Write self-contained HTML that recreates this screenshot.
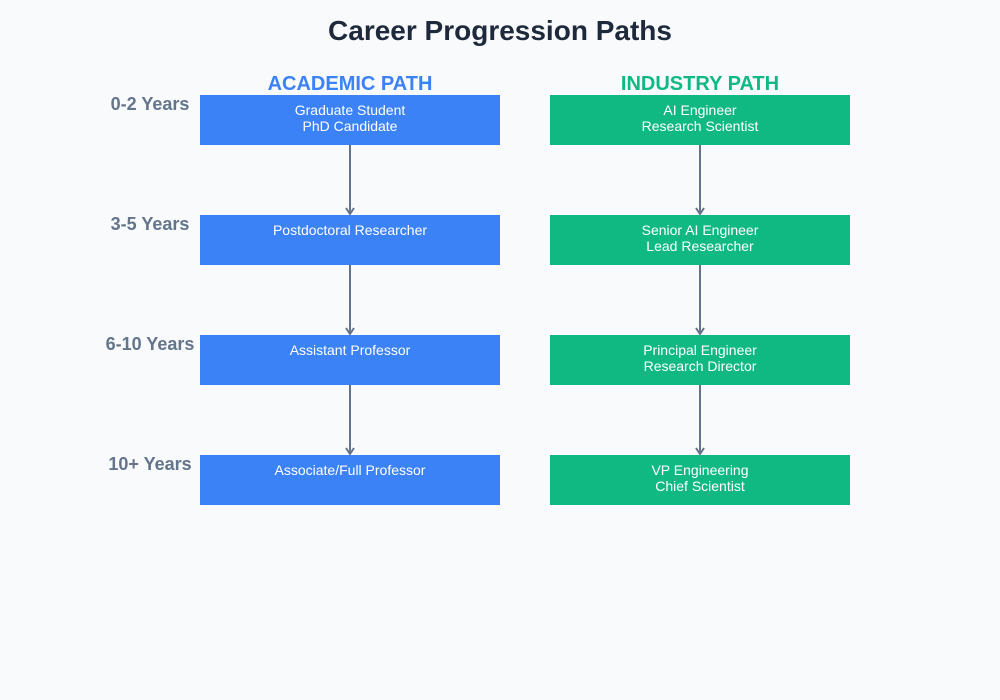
<!DOCTYPE html>
<html><head><meta charset="utf-8"><style>
html,body{margin:0;padding:0;background:#f8fafc;}
svg{display:block;font-family:"Liberation Sans",Arial,sans-serif;}
</style></head><body>
<svg width="1000" height="700" viewBox="0 0 1000 700" xmlns="http://www.w3.org/2000/svg">
<rect width="1000" height="700" fill="#f8fafc"/>
<text x="500" y="40" text-anchor="middle" font-size="28" font-weight="bold" fill="#1e293b">Career Progression Paths</text>
<text x="350" y="90" text-anchor="middle" font-size="20" font-weight="bold" fill="#3b82f6">ACADEMIC PATH</text>
<text x="700" y="90" text-anchor="middle" font-size="20" font-weight="bold" fill="#10b981">INDUSTRY PATH</text>
<g font-size="18" font-weight="bold" fill="#64748b" text-anchor="middle">
<text x="150" y="110">0-2 Years</text>
<text x="150" y="230">3-5 Years</text>
<text x="150" y="350">6-10 Years</text>
<text x="150" y="470">10+ Years</text>
</g>
<g stroke="#64748b" stroke-width="2" fill="none">
<line x1="350" y1="145" x2="350" y2="214"/><polyline points="346,208 350,214 354,208"/>
<line x1="350" y1="265" x2="350" y2="334"/><polyline points="346,328 350,334 354,328"/>
<line x1="350" y1="385" x2="350" y2="454"/><polyline points="346,448 350,454 354,448"/>
<line x1="700" y1="145" x2="700" y2="214"/><polyline points="696,208 700,214 704,208"/>
<line x1="700" y1="265" x2="700" y2="334"/><polyline points="696,328 700,334 704,328"/>
<line x1="700" y1="385" x2="700" y2="454"/><polyline points="696,448 700,454 704,448"/>
</g>
<g fill="#3b82f6">
<rect x="200" y="95" width="300" height="50"/>
<rect x="200" y="215" width="300" height="50"/>
<rect x="200" y="335" width="300" height="50"/>
<rect x="200" y="455" width="300" height="50"/>
</g>
<g fill="#10b981">
<rect x="550" y="95" width="300" height="50"/>
<rect x="550" y="215" width="300" height="50"/>
<rect x="550" y="335" width="300" height="50"/>
<rect x="550" y="455" width="300" height="50"/>
</g>
<g font-size="14" fill="#ffffff" text-anchor="middle">
<text x="350" y="115">Graduate Student</text>
<text x="350" y="131">PhD Candidate</text>
<text x="350" y="235">Postdoctoral Researcher</text>
<text x="350" y="355">Assistant Professor</text>
<text x="350" y="475">Associate/Full Professor</text>
<text x="700" y="115">AI Engineer</text>
<text x="700" y="131">Research Scientist</text>
<text x="700" y="235">Senior AI Engineer</text>
<text x="700" y="251">Lead Researcher</text>
<text x="700" y="355">Principal Engineer</text>
<text x="700" y="371">Research Director</text>
<text x="700" y="475">VP Engineering</text>
<text x="700" y="491">Chief Scientist</text>
</g>
</svg>
</body></html>
